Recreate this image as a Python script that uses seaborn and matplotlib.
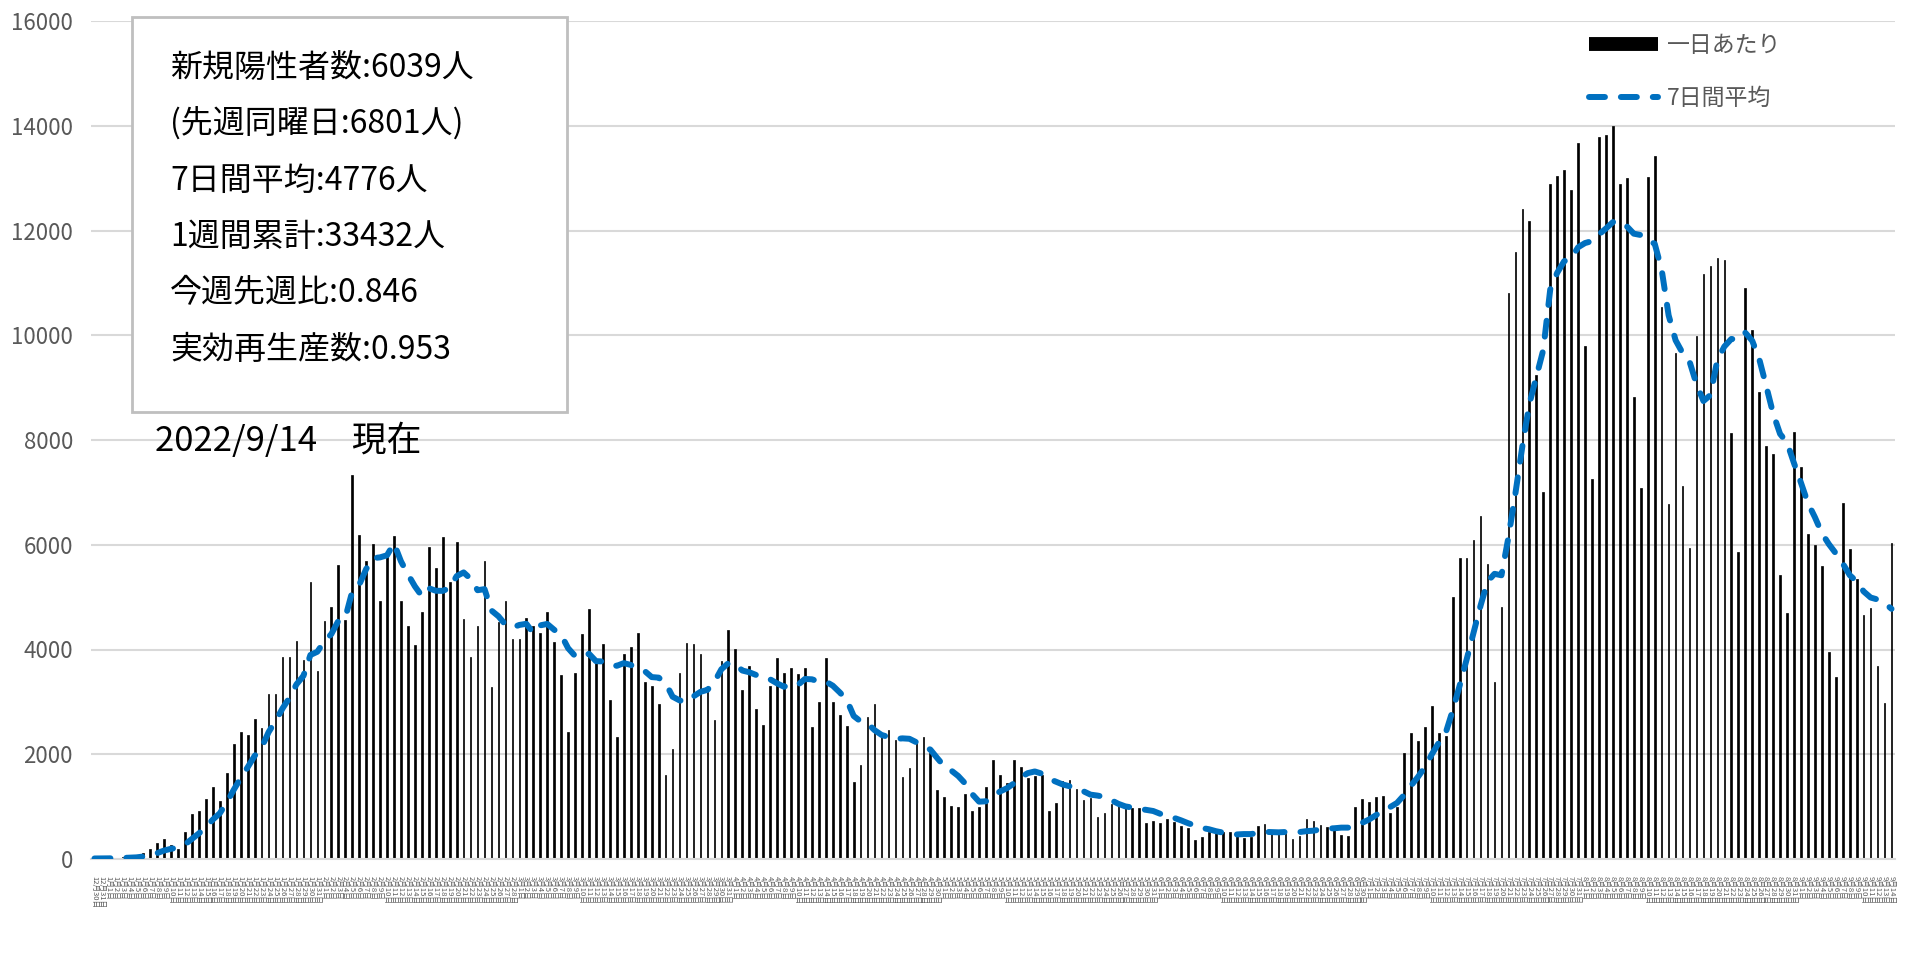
import numpy as np
import pandas as pd
import matplotlib
matplotlib.use("Agg")
import matplotlib.pyplot as plt
import seaborn as sns
from matplotlib.lines import Line2D
from matplotlib.patches import Rectangle

# daily new positives
dec = [10, 12]
jan = [15, 25, 35, 50, 70, 120, 185, 300, 375, 267, 190, 515, 860, 922, 1151, 1368,
       1113, 1648, 2195, 2424, 2373, 2667, 2500, 3150, 3150, 3862, 3850, 4167, 3800,
       5288, 3583]
feb = [4549, 4816, 5606, 4563, 7325, 6191, 5695, 6013, 4920, 5886, 6166, 4920, 4448,
       4091, 4715, 5962, 5549, 6153, 5294, 6052, 4576, 3862, 4440, 5689, 3290, 4530,
       4932, 4194]
mar = [4206, 4595, 4448, 4321, 4721, 4149, 3512, 2424, 3557, 4295, 4772, 3736, 4104,
       3035, 2323, 3913, 4053, 4308, 3379, 3303, 2959, 1597, 2094, 3557, 4117, 4104,
       3913, 3226, 2653, 3786, 4372]
apr = [4015, 3226, 3684, 2857, 2558, 3303, 3831, 3557, 3640, 3532, 3640, 2514, 2991,
       3843, 3003, 2745, 2542, 1476, 1788, 2704, 2959, 2367, 2463, 2272, 1571, 1731,
       2240, 2335, 2018, 1317]
may = [1178, 1012, 999, 1241, 916, 999, 1368, 1890, 1603, 1444, 1883, 1750, 1540, 1590,
       1603, 922, 1063, 1495, 1508, 1330, 1126, 1158, 796, 884, 1050, 1031, 987, 967,
       967, 681, 731]
jun = [681, 757, 712, 636, 592, 357, 414, 509, 500, 522, 522, 458, 407, 414, 636, 668,
       490, 490, 503, 375, 439, 757, 731, 649, 605, 553, 458, 439, 987, 1145]
jul = [1094, 1190, 1203, 872, 999, 2018, 2412, 2259, 2514, 2921, 2412, 2340, 5000, 5740,
       5740, 6100, 6540, 5625, 3370, 4805, 10815, 11592, 12408, 12180, 9232, 7005,
       12882, 13043, 13147, 12768, 13678]
aug = [9801, 7261, 13782, 13830, 14000, 12882, 12996, 8825, 7081, 13024, 13431, 10531,
       6778, 9659, 7129, 5944, 9991, 11177, 11328, 11480, 11442, 8143, 5868, 10910,
       10095, 8919, 7877, 7735, 5413, 4701, 8162]
sep = [7479, 6200, 5991, 5602, 3953, 3470, 6801, 5920, 5347, 4664, 4790, 3688, 2986, 6039]

first_day = "2021-12-30"
last_day = "2022-09-14"

info_lines = ["新規陽性者数:6039人", "(先週同曜日:6801人)", "7日間平均:4776人",
              "1週間累計:33432人", "今週先週比:0.846", "実効再生産数:0.953"]
date_note = "2022/9/14　現在"
legend_labels = ["一日あたり", "7日間平均"]

daily = dec + jan + feb + mar + apr + may + jun + jul + aug + sep
dates = pd.date_range(first_day, last_day, freq="D")
day_labels = [f"{d.month}月{d.day}日" for d in dates]

df = pd.DataFrame({"pos": np.arange(len(daily)), "daily": daily})
df["avg7"] = df["daily"].rolling(7, min_periods=1).mean()
n = len(df)

sns.set_style("white")
plt.rcParams["font.family"] = ["Noto Sans CJK JP", "DejaVu Sans"]

W, H = 1905, 965
fig = plt.figure(figsize=(W / 100, H / 100), dpi=100)
ax = fig.add_axes([91 / W, (H - 859) / H, 1804 / W, 838 / H])

blue = "#0070C0"
grey = "#595959"

sns.barplot(data=df, x="pos", y="daily", color="black", saturation=1, width=0.24,
            edgecolor="black", linewidth=0.5, ax=ax)
sns.lineplot(data=df, x="pos", y="avg7", color=blue, lw=4.3, ax=ax)
avg_line = ax.lines[-1]
avg_line.set_dashes((2.67, 2.67))
avg_line.set_dash_capstyle("round")
avg_line.set_zorder(4)

ax.set_xlim(-0.5, n - 0.5)
ax.set_ylim(0, 16000)
ax.set_yticks(range(0, 16001, 2000))
ax.yaxis.grid(True, color="#D9D9D9", lw=1.5)
ax.set_axisbelow(True)
ax.set_xlabel("")
ax.set_ylabel("")

ax.set_xticks(np.arange(n))
ax.set_xticklabels(day_labels, rotation=270, fontsize=5.5, color=grey)
ax.set_xticks(np.arange(1.5, n, 2), minor=True)
ax.tick_params(axis="x", which="major", length=0, pad=12)
ax.tick_params(axis="x", which="minor", length=6, width=1.2, color="#D9D9D9")
ax.tick_params(axis="y", length=0, pad=13, labelsize=16, labelcolor=grey)

for side in ["top", "right", "left"]:
    ax.spines[side].set_visible(False)
ax.spines["bottom"].set_color("#D9D9D9")
ax.spines["bottom"].set_linewidth(1.5)

# info box
fig.add_artist(Rectangle((132 / W, 1 - 412 / H), 435 / W, 395 / H, transform=fig.transFigure,
                         facecolor="white", edgecolor="#BFBFBF", lw=2, zorder=5))
for k, line in enumerate(info_lines):
    fig.text(170 / W, 1 - (68 + 56.4 * k) / H, line, va="center", fontsize=23,
             color="black", zorder=6)
fig.text(155 / W, 1 - 441 / H, date_note, va="center", fontsize=25, color="black")

handles = [Line2D([0], [0], color="black", lw=10, solid_capstyle="butt"),
           Line2D([0], [0], color=blue, lw=4.3, dashes=(2.67, 2.67), dash_capstyle="round")]
fig.legend(handles, legend_labels, loc="upper left", bbox_to_anchor=(1589 / W, 1 - 34 / H),
           frameon=False, fontsize=16.5, labelcolor=grey, handlelength=3.0,
           handletextpad=0.4, labelspacing=1.3, borderpad=0, borderaxespad=0)

fig.savefig("out.png", dpi=100)
plt.close()
